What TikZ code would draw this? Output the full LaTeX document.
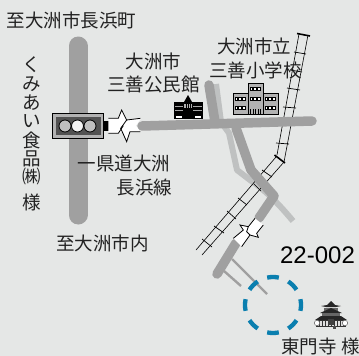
\documentclass[tikz,border=0pt]{standalone}
\usepackage{fontspec}
\setmainfont{Noto Sans CJK JP}
\newfontfamily\latinfont{Liberation Sans}
\definecolor{bgc}{HTML}{E5E7E6}
\definecolor{roadc}{HTML}{A0A0A0}
\definecolor{lightroad}{HTML}{BFC1C1}
\definecolor{sitec}{HTML}{0A7FAF}
\definecolor{txtc}{HTML}{222222}
\tikzset{
  x=1pt,y=-1pt,
  lab/.style={inner sep=0pt,font=\fontsize{18.5}{19.5}\selectfont,text=txtc,align=center},
  mainroad/.style={draw=roadc,line width=9.5pt,line cap=round,line join=round},
  sideroad/.style={draw=roadc,line width=2.4pt},
  rail/.style={draw=black,line width=.6pt},
  tie/.style={draw=black,line width=.7pt},
  railend/.style={draw=black,line width=1.6pt},
  breakfill/.style={fill=white,draw=none},
  breakline/.style={draw=black,line width=.8pt,line join=miter},
  sitering/.style={draw=sitec,line width=4.3pt},
  bldg/.style={fill=gray!60,draw=black,line width=.7pt},
  win/.style={fill=white,draw=black,line width=.5pt},
}
\begin{document}
\begin{tikzpicture}
\useasboundingbox (0,0) rectangle (359,356);
\fill[bgc] (0,0) rectangle (359,356);
% light road
\draw[lightroad,line width=6pt,line join=round]
  (216,84) -- (221,122) -- (229,133) -- (237,170) -- (250,180) .. controls (265,190) and (278,203) .. (293,221);
% rails
\draw[rail] (299,34) -- (277,155);
\draw[rail] (308,35) -- (284,162);
\draw[rail] (276,157) -- (196,250);
\draw[rail] (284,162) -- (202,255);
\foreach \a/\b/\c/\d in {294/52/306/54, 290/70/302/72, 287/88/300/90, 283/107/296/108, 276/143/289/144,
  262/170/272/177, 254/184/261/191, 238/198/247/205, 227/211/236/219, 214/226/224/233, 202/239/212/247}
  \draw[tie] (\a,\b) -- (\c,\d);
\draw[railend] (297,33.5) -- (310,36);
\draw[railend] (274.5,155) -- (285,163);
% roads
\draw[mainroad,line width=19pt] (78,46) -- (78,215);
\draw[mainroad] (142,126) -- (312,121);
\draw[mainroad] (209,85) -- (215,122);
\draw[mainroad] (236,128) -- (251,170) -- (274,196) -- (259,218);
\draw[mainroad] (236,243) -- (217,274);
\draw[sideroad] (232,259) -- (267,294);
\draw[sideroad] (224,271) -- (241,286);
% break on the lower road
\begin{scope}[shift={(225,205)},x=.3333pt,y=-.3333pt]
  \fill[breakfill] (90,40) -- (115,60) -- (95,85) -- (100,97) -- (75,90) -- (50,125) -- (25,100) -- (55,75) -- (45,60) -- (70,65) -- cycle;
  \draw[breakline] (90,40) -- (70,65) -- (45,60) -- (55,75) -- (25,100);
  \draw[breakline] (115,60) -- (95,85) -- (100,97) -- (75,90) -- (50,125);
  \draw[breakline] (70,65) -- (65,80) -- (75,90);
\end{scope}
% signal
\filldraw[fill=gray!60,draw=black,line width=.7pt] (52.5,113.5) rectangle (103,138);
\fill[black!68] (55.5,116.5) rectangle (100.5,135);
\fill[black] (103,121) rectangle (109,131);
\draw[fill=gray!50,draw=black,line width=.8pt] (65,126) circle (6);
\draw[fill=white!90!gray,draw=black,line width=.8pt] (77.5,126) circle (6);
\draw[fill=gray!50,draw=black,line width=.8pt] (90,126) circle (6);
% break beside the signal
\begin{scope}[shift={(100,105)},x=.3333pt,y=-.3333pt]
  \fill[breakfill] (25,40) -- (55,40) -- (65,15) -- (80,45) -- (115,40) -- (122,42) -- (108,62) -- (122,82) -- (115,80) -- (90,80) -- (80,110) -- (70,80) -- (55,85) -- (25,85) -- cycle;
  \draw[breakline] (25,40) -- (55,40) -- (65,15) -- (80,45) -- (62,70) -- (80,110) -- (90,80) -- (121,80);
  \draw[breakline] (80,45) -- (121,40);
  \draw[breakline] (25,85) -- (55,85) -- (70,62);
\end{scope}
% civic hall
\fill[black] (174,102) rectangle (203,119);
\fill[black] (184,102) -- (188,95) -- (192,102) -- cycle;
\foreach \y in {106,110.5}{
  \draw[gray!70,line width=.4pt] (175,\y) -- (183,\y);
  \draw[gray!70,line width=.4pt] (193,\y) -- (202,\y);
}
\fill[gray!60] (184,104) rectangle (192,108);
\fill[white] (176,116) rectangle (182,118);
\fill[white] (195,116) rectangle (201,118);
\foreach \x in {186,188,190} \draw[black,line width=.6pt] (\x,103.5) -- (\x,109);
% school
\draw[bldg] (233,93.5) rectangle (248,114);
\draw[bldg] (263,93.5) rectangle (278,114);
\draw[bldg] (248,83) rectangle (263,114);
\foreach \bx/\by in {235/97,235/106,265/97,265/106,250/87,250/97}{
  \foreach \i in {0,1,2}
    \draw[win] (\bx+\i*3.7,\by) rectangle ++(2.7,3);
}
\foreach \x in {250.5,253,255.5,258,260.5}
  \draw[black,line width=.8pt] (\x,109) -- (\x,114);
% site ring
\foreach \t in {0,45,...,315}
  \draw[sitering] (273,305) ++(\t-12:28) arc[start angle=\t-12,end angle=\t+12,radius=28];
% temple
\begin{scope}[line width=.5pt]
  \fill[black!85] (331,301) -- (335,305) -- (341,306) -- (336,307) -- (326,307) -- (321,306) -- (327,305) -- cycle;
  \fill[black!60] (324,308) rectangle (338,311);
  \fill[black!85] (331,308) -- (342,313) -- (320,313) -- cycle;
  \fill[black!60] (322,313) rectangle (340,317);
  \fill[black!85] (321,316) -- (341,316) -- (347,320) -- (315,320) -- cycle;
  \fill[gray!25] (318,320) rectangle (344,326);
  \foreach \x in {319,322,...,343} \draw[black!80] (\x,320) -- (\x,326);
  \draw[black!80] (318,320) -- (344,320) (316,326) -- (346,326);
  \fill[black!75] (328,319) rectangle (334,325);
  \draw[fill=white,draw=black!60] (317,323) circle (2.7);
  \draw[fill=white,draw=black!60] (345,323) circle (2.7);
  \fill[black!70] (333,326) rectangle (336,329);
\end{scope}
% labels
\node[lab] (n1) at (71.5,20) {至大洲市長浜町};
\node[lab] (n2) at (153.5,61) {大洲市};
\node[lab] (n3) at (153.5,84) {三善公民館};
\node[lab] (n4) at (254,46) {大洲市立};
\node[lab] (n5) at (255.5,70) {三善小学校};
\node[lab] (n6) at (31.5,65) {く};
\node[lab] (n7) at (31.5,84) {み};
\node[lab] (n8) at (31.5,103) {あ};
\node[lab] (n9) at (31.5,121) {い};
\node[lab] (n10) at (31.5,140) {食};
\node[lab] (n11) at (31.5,159) {品};
\node[lab] (n12) at (31.5,176) {㈱};
\node[lab] (n13) at (31.5,202) {様};
\node[lab] (n14) at (124,163) {一県道大洲};
\node[lab] (n15) at (144.5,187) {長浜線};
\node[lab] (n16) at (102.5,243) {至大洲市内};
\node[inner sep=0pt,font=\latinfont\fontsize{24}{25}\selectfont,text=black] (n17) at (317.5,255) {22-002};
\node[lab] (n18) at (320.5,346) {東門寺 様};
\end{tikzpicture}
\end{document}
